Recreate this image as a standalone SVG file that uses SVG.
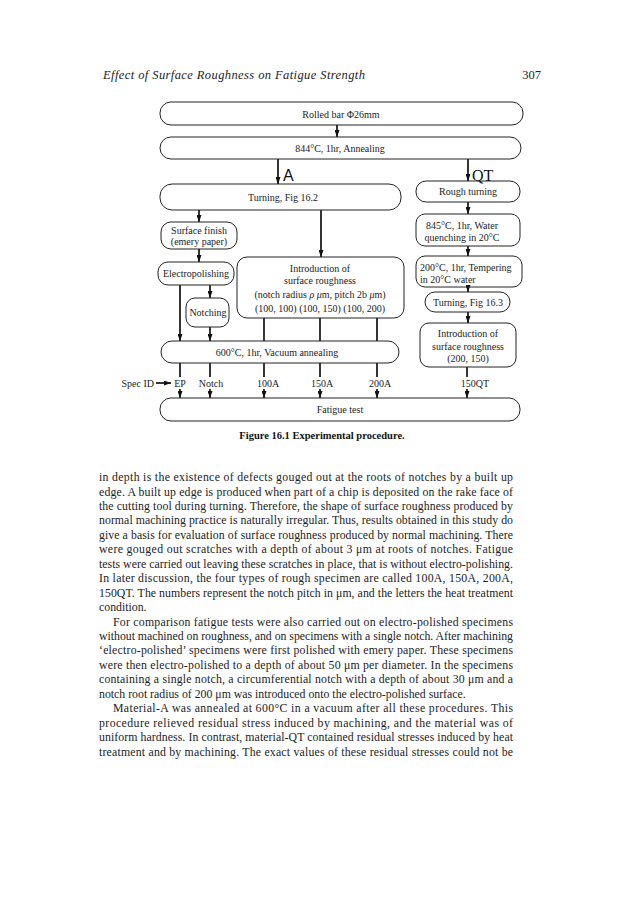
<svg xmlns="http://www.w3.org/2000/svg" width="633" height="900" viewBox="0 0 633 900">
<defs>
<marker id="ah" viewBox="0 0 7 5" refX="7" refY="2.5" markerWidth="7" markerHeight="5" markerUnits="userSpaceOnUse" orient="auto"><path d="M0,0 L7,2.5 L0,5 z" fill="#111"/></marker>
<style>
.bx{fill:none;stroke:#222;stroke-width:1}
.t{font-family:"Liberation Serif","Times New Roman",serif;font-size:10px;fill:#222;text-anchor:middle}
.tl{font-family:"Liberation Serif","Times New Roman",serif;font-size:10px;fill:#222}
.c{stroke:#111;stroke-width:1.7;fill:none}
.ca{stroke:#111;stroke-width:1.7;fill:none;marker-end:url(#ah)}
.b{font-family:"Liberation Serif","Times New Roman",serif;font-size:11.8px;fill:#222}
</style>
</defs>
<rect width="633" height="900" fill="#fff"/>
<text x="103" y="79" font-family="Liberation Serif, serif" font-style="italic" font-size="12.5" fill="#222" textLength="262">Effect of Surface Roughness on Fatigue Strength</text>
<text x="541" y="79" font-family="Liberation Serif, serif" font-size="12.5" fill="#222" text-anchor="end">307</text>

<g id="connectors">
<line class="ca" x1="337" y1="125" x2="337" y2="137"/>
<line class="ca" x1="278" y1="159" x2="278" y2="184"/>
<line class="ca" x1="468" y1="159" x2="468" y2="181"/>
<line class="ca" x1="199" y1="210" x2="199" y2="222"/>
<line class="ca" x1="199" y1="249" x2="199" y2="262"/>
<line class="ca" x1="180" y1="285" x2="180" y2="341"/>
<line class="ca" x1="210" y1="285" x2="210" y2="298"/>
<line class="ca" x1="210" y1="327" x2="210" y2="341"/>
<line class="ca" x1="321" y1="210" x2="321" y2="257"/>
<line class="c" x1="264" y1="318" x2="264" y2="341"/>
<line class="c" x1="320" y1="318" x2="320" y2="341"/>
<line class="c" x1="377" y1="318" x2="377" y2="341"/>
<line class="ca" x1="468" y1="202" x2="468" y2="214"/>
<line class="ca" x1="468" y1="246" x2="468" y2="256"/>
<line class="ca" x1="468" y1="287" x2="468" y2="292"/>
<line class="ca" x1="468" y1="312" x2="468" y2="323"/>
<line class="c" x1="180" y1="363" x2="180" y2="377"/>
<line class="ca" x1="180" y1="389" x2="180" y2="398"/>
<line class="c" x1="210" y1="363" x2="210" y2="377"/>
<line class="ca" x1="210" y1="389" x2="210" y2="398"/>
<line class="c" x1="264" y1="363" x2="264" y2="377"/>
<line class="ca" x1="264" y1="389" x2="264" y2="398"/>
<line class="c" x1="320" y1="363" x2="320" y2="377"/>
<line class="ca" x1="320" y1="389" x2="320" y2="398"/>
<line class="c" x1="377" y1="363" x2="377" y2="377"/>
<line class="ca" x1="377" y1="389" x2="377" y2="398"/>
<line class="c" x1="467" y1="367" x2="467" y2="377"/>
<line class="ca" x1="467" y1="389" x2="467" y2="398"/>
<line class="ca" x1="156" y1="383" x2="171" y2="383"/>
</g>

<g id="labels">
<text x="283" y="181" font-family="Liberation Sans, Arial, sans-serif" font-size="16" fill="#111">A</text>
<text x="472" y="181" font-family="Liberation Serif, serif" font-size="16" fill="#111">QT</text>
<text class="tl" x="154" y="387" font-size="9.5" text-anchor="end">Spec ID</text>
<text class="t" x="180" y="387">EP</text>
<text class="t" x="211" y="387">Notch</text>
<text class="t" x="268" y="387">100A</text>
<text class="t" x="322" y="387">150A</text>
<text class="t" x="380" y="387">200A</text>
<text class="t" x="475" y="387">150QT</text>
</g>

<g id="rolled-bar"><rect class="bx" x="160" y="102" width="363" height="23" rx="11"/><text class="t" x="341" y="117.5">Rolled bar  Φ26mm</text></g>
<g id="annealing"><rect class="bx" x="160" y="137" width="361" height="22" rx="11"/><text class="t" x="340" y="151.5">844°C, 1hr, Annealing</text></g>
<g id="turning-a"><rect class="bx" x="160" y="184" width="241" height="26" rx="12"/><text class="t" x="283" y="200.5">Turning, Fig  16.2</text></g>
<g id="rough-turning"><rect class="bx" x="416" y="181" width="104" height="21" rx="10"/><text class="t" x="468" y="195">Rough turning</text></g>
<g id="surface-finish"><rect class="bx" x="161" y="222" width="76" height="27" rx="10"/><text class="t" x="199" y="233.5">Surface finish</text><text class="t" x="199" y="245">(emery paper)</text></g>
<g id="electropolishing"><rect class="bx" x="158" y="262" width="76" height="23" rx="10"/><text class="t" x="196" y="277">Electropolishing</text></g>
<g id="notching"><rect class="bx" x="186" y="298" width="43" height="29" rx="9"/><text class="t" x="208" y="316">Notching</text></g>
<g id="intro-a"><rect class="bx" x="237" y="257" width="167" height="61" rx="10"/>
<text class="t" x="320" y="272">Introduction of</text>
<text class="t" x="320" y="284">surface roughness</text>
<text class="t" x="320" y="298">(notch radius  <tspan font-style="italic">ρ μ</tspan>m, pitch 2b <tspan font-style="italic">μ</tspan>m)</text>
<text class="t" x="320" y="312">(100, 100) (100, 150) (100, 200)</text></g>
<g id="quenching"><rect class="bx" x="416" y="214" width="104" height="32" rx="9"/><text class="t" x="462" y="229">845°C, 1hr, Water</text><text class="t" x="462" y="241">quenching in 20°C</text></g>
<g id="tempering"><rect class="bx" x="416" y="256" width="106" height="31" rx="9"/><text class="tl" x="420" y="270.5">200°C, 1hr, Tempering</text><text class="tl" x="420" y="282.5">in 20°C  water</text></g>
<g id="turning-qt"><rect class="bx" x="425" y="292" width="85" height="20" rx="10"/><text class="t" x="468" y="305.5">Turning, Fig  16.3</text></g>
<g id="intro-qt"><rect class="bx" x="420" y="323" width="96" height="44" rx="9"/>
<text class="t" x="468" y="337">Introduction of</text>
<text class="t" x="468" y="349.5">surface roughness</text>
<text class="t" x="468" y="362">(200, 150)</text></g>
<g id="vacuum"><rect class="bx" x="161" y="341" width="238" height="22" rx="11"/><text class="t" x="277" y="355.5">600°C, 1hr,  Vacuum annealing</text></g>
<g id="fatigue"><rect class="bx" x="160" y="398" width="360" height="23" rx="11"/><text class="t" x="340" y="413">Fatigue test</text></g>

<text x="322" y="439" font-family="Liberation Serif, serif" font-weight="bold" font-size="10.5" fill="#111" text-anchor="middle">Figure 16.1  Experimental procedure.</text>

<g id="body">
<text class="b" x="99" y="481" textLength="414">in depth is the existence of defects gouged out at the roots of notches by a built up</text>
<text class="b" x="99" y="495.5" textLength="414">edge. A built up edge is produced when part of a chip is deposited on the rake face of</text>
<text class="b" x="99" y="510" textLength="414">the cutting tool during turning. Therefore, the shape of surface roughness produced by</text>
<text class="b" x="99" y="524.4" textLength="414">normal machining practice is naturally irregular. Thus, results obtained in this study do</text>
<text class="b" x="99" y="538.8" textLength="414">give a basis for evaluation of surface roughness produced by normal machining. There</text>
<text class="b" x="99" y="553.3" textLength="414">were gouged out scratches with a depth of about 3 μm at roots of notches. Fatigue</text>
<text class="b" x="99" y="567.7" textLength="414">tests were carried out leaving these scratches in place, that is without electro-polishing.</text>
<text class="b" x="99" y="582.2" textLength="414">In later discussion, the four types of rough specimen are called 100A, 150A, 200A,</text>
<text class="b" x="99" y="596.6" textLength="414">150QT. The numbers represent the notch pitch in μm, and the letters the heat treatment</text>
<text class="b" x="99" y="611">condition.</text>
<text class="b" x="113" y="625.5" textLength="400">For comparison fatigue tests were also carried out on electro-polished specimens</text>
<text class="b" x="99" y="640" textLength="414">without machined on roughness, and on specimens with a single notch. After machining</text>
<text class="b" x="99" y="654.4" textLength="414">‘electro-polished’ specimens were first polished with emery paper. These specimens</text>
<text class="b" x="99" y="668.8" textLength="414">were then electro-polished to a depth of about 50 μm per diameter. In the specimens</text>
<text class="b" x="99" y="683.3" textLength="414">containing a single notch, a circumferential notch with a depth of about 30 μm and a</text>
<text class="b" x="99" y="697.7">notch root radius of 200 μm was introduced onto the electro-polished surface.</text>
<text class="b" x="113" y="712.2" textLength="400">Material-A was annealed at 600°C in a vacuum after all these procedures. This</text>
<text class="b" x="99" y="726.6" textLength="414">procedure relieved residual stress induced by machining, and the material was of</text>
<text class="b" x="99" y="741" textLength="414">uniform hardness. In contrast, material-QT contained residual stresses induced by heat</text>
<text class="b" x="99" y="755.5" textLength="414">treatment and by machining. The exact values of these residual stresses could not be</text>
</g>
</svg>
